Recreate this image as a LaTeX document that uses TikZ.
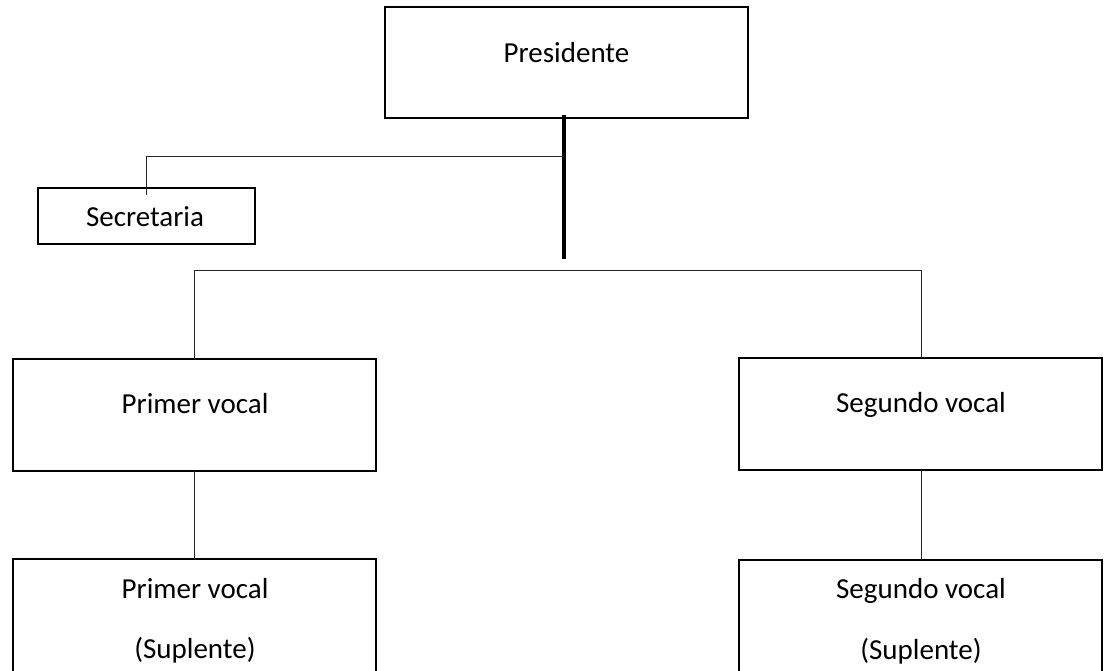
\documentclass[tikz,border=0pt]{standalone}
\usepackage{fontspec}
\setmainfont{Carlito}
\begin{document}
\begin{tikzpicture}[x=1pt,y=-1pt,
  box/.style={draw=black, line width=2pt, rectangle, inner sep=0pt, outer sep=0pt, anchor=north west, minimum width=363pt},
  lbl/.style={inner sep=0pt, anchor=base, font=\fontsize{29}{35}\selectfont},
  conn/.style={draw=black!85, line width=1pt},
  trunk/.style={draw=black, line width=4pt}]
\useasboundingbox (0,0) rectangle (1110,670);
\clip (0,0) rectangle (1110,670);
% boxes
\node[box, minimum height=111pt] (pres) at (385,7) {};
\node[box, minimum width=217pt, minimum height=56pt] (secr) at (38,188) {};
\node[box, minimum height=112pt] (pv) at (13,359) {};
\node[box, minimum height=112pt] (sv) at (739,358) {};
\node[box, minimum height=125pt] (pvs) at (13,559) {};
\node[box, minimum height=125pt] (svs) at (739,560) {};
% labels
\node[lbl] (presT) at (566.5,62) {Presidente};
\node[lbl] (secrT) at (145,226) {Secretaria};
\node[lbl] (pvT) at (195,413) {Primer vocal};
\node[lbl] (svT) at (921,412) {Segundo vocal};
\node[lbl] (pvsT1) at (195,598) {Primer vocal};
\node[lbl] (pvsT2) at (195,658) {(Suplente)};
\node[lbl] (svsT1) at (921,598) {Segundo vocal};
\node[lbl] (svsT2) at (921,659) {(Suplente)};
% connector points
\coordinate (trunkTop) at (564,115);
\coordinate (trunkEnd) at (564,259);
\coordinate (secJ) at (564,156);
\coordinate (secEnd) at (146,195);
\coordinate (barL) at (194,270);
\coordinate (barR) at (921,270);
% connectors
\draw[trunk] (trunkTop) -- (trunkEnd);
\draw[conn] (secJ) -| (secEnd);
\draw[conn] (barL) -- (barR);
\draw[conn] (barL) -- (barL |- pv.north);
\draw[conn] (barR) -- (barR |- sv.north);
\draw[conn] (pv.south -| barL) -- (pvs.north -| barL);
\draw[conn] (sv.south -| barR) -- (svs.north -| barR);
\end{tikzpicture}
\end{document}
